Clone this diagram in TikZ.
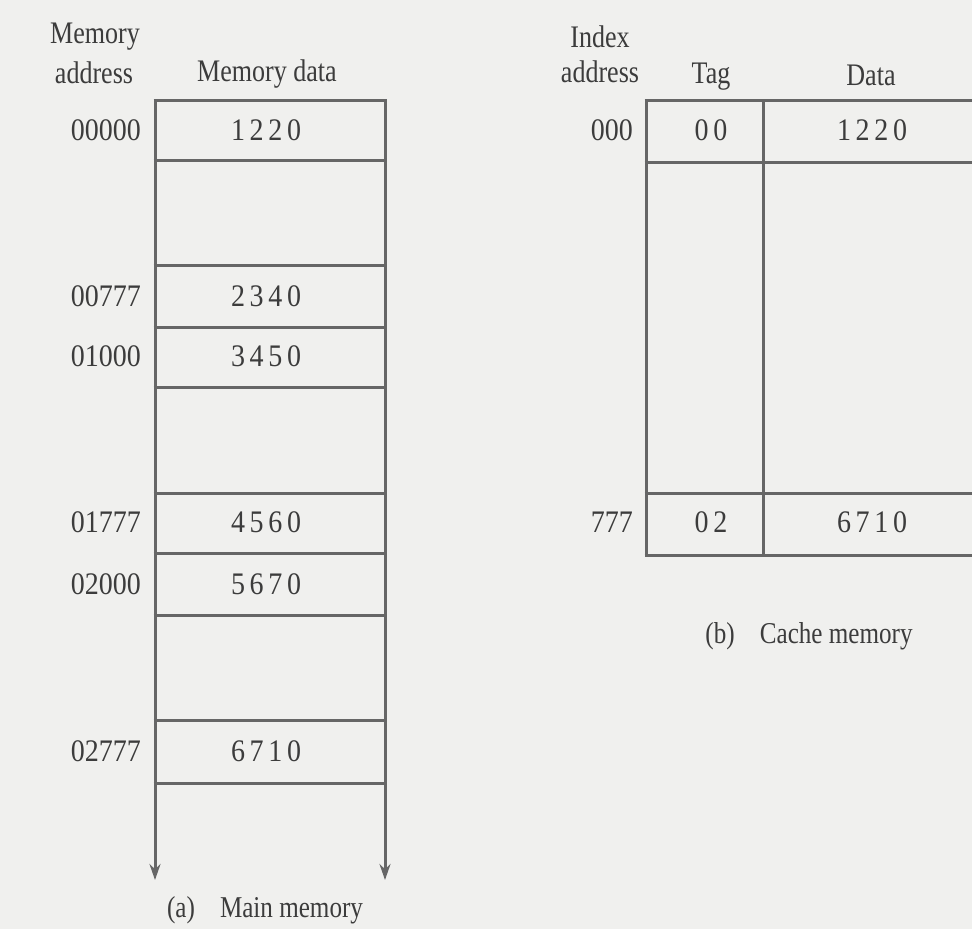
\documentclass[tikz,border=0pt]{standalone}
\usepackage{fontspec}
\setmainfont{Liberation Serif}
\usetikzlibrary{arrows.meta}
\definecolor{bg}{HTML}{F0F0EE}
\definecolor{ln}{HTML}{666666}
\definecolor{tx}{HTML}{3C3C3C}
\newcommand{\vs}[1]{\scalebox{1}[1.12]{#1}}
\newcommand{\vh}[1]{\scalebox{0.93}[1.12]{#1}}
\begin{document}
\begin{tikzpicture}[x=1pt,y=-1pt,
  txt/.style={text=tx,font=\fontsize{28}{30}\selectfont,inner sep=0pt},
  captxt/.style={text=tx,font=\fontsize{27}{30}\selectfont,inner sep=0pt},
  gridline/.style={draw=ln,line width=3pt},
  downarrow/.style={draw=ln,line width=3pt,-{Stealth[length=16pt,width=11pt]}}]
\useasboundingbox (0,0) rectangle (972,929);
\fill[bg] (0,0) rectangle (972,929);
\begin{scope}
\clip (0,0) rectangle (972,929);
% ---------- main memory ----------
\foreach \y in {100,160,265,327,387,493,553,615,720,783}
  \draw[gridline] (153.5,\y) -- (386.5,\y);
\coordinate (mtl) at (155,100);
\coordinate (mbl) at (155,880);
\coordinate (mtr) at (385,100);
\coordinate (mbr) at (385,880);
\draw[downarrow] (mtl) -- (mbl);
\draw[downarrow] (mtr) -- (mbr);

\node[txt] (h1) at (95,37) {\vh{Memory}};
\node[txt] (h2) at (94,73) {\vh{address}};
\node[txt] (h3) at (267,74) {\vh{Memory data}};

\node[txt,anchor=east] (a1) at (141,130) {\vs{00000}};
\node[txt,anchor=east] (a2) at (141,296) {\vs{00777}};
\node[txt,anchor=east] (a3) at (141,356) {\vs{01000}};
\node[txt,anchor=east] (a4) at (141,522) {\vs{01777}};
\node[txt,anchor=east] (a5) at (141,584) {\vs{02000}};
\node[txt,anchor=east] (a6) at (141,751) {\vs{02777}};

\node[txt] (d1) at (266,130) {\vs{1\,2\,2\,0}};
\node[txt] (d2) at (266,296) {\vs{2\,3\,4\,0}};
\node[txt] (d3) at (266,356) {\vs{3\,4\,5\,0}};
\node[txt] (d4) at (266,522) {\vs{4\,5\,6\,0}};
\node[txt] (d5) at (266,584) {\vs{5\,6\,7\,0}};
\node[txt] (d6) at (266,751) {\vs{6\,7\,1\,0}};

\node[captxt] (capa) at (265,910) {\vh{(a)\quad Main memory}};

% ---------- cache memory ----------
\foreach \y in {100,162,493,555}
  \draw[gridline] (644.5,\y) -- (990,\y);
\coordinate (ctl) at (646,100);
\coordinate (cbl) at (646,555);
\coordinate (ctm) at (763,100);
\coordinate (cbm) at (763,555);
\draw[gridline] (ctl) -- (cbl);
\draw[gridline] (ctm) -- (cbm);

\node[txt] (i1) at (600,37) {\vh{Index}};
\node[txt] (i2) at (600,72) {\vh{address}};
\node[txt] (tg) at (711,77) {\vh{Tag}};
\node[txt] (dt) at (871,75) {\vh{Data}};

\node[txt,anchor=east] (c1) at (633,130) {\vs{000}};
\node[txt] (t1) at (711,130) {\vs{0\,0}};
\node[txt] (v1) at (872,130) {\vs{1\,2\,2\,0}};
\node[txt,anchor=east] (c2) at (633,522) {\vs{777}};
\node[txt] (t2) at (711,522) {\vs{0\,2}};
\node[txt] (v2) at (872,522) {\vs{6\,7\,1\,0}};

\node[captxt] (capb) at (809,636) {\vh{(b)\quad Cache memory}};
\end{scope}
\end{tikzpicture}
\end{document}
